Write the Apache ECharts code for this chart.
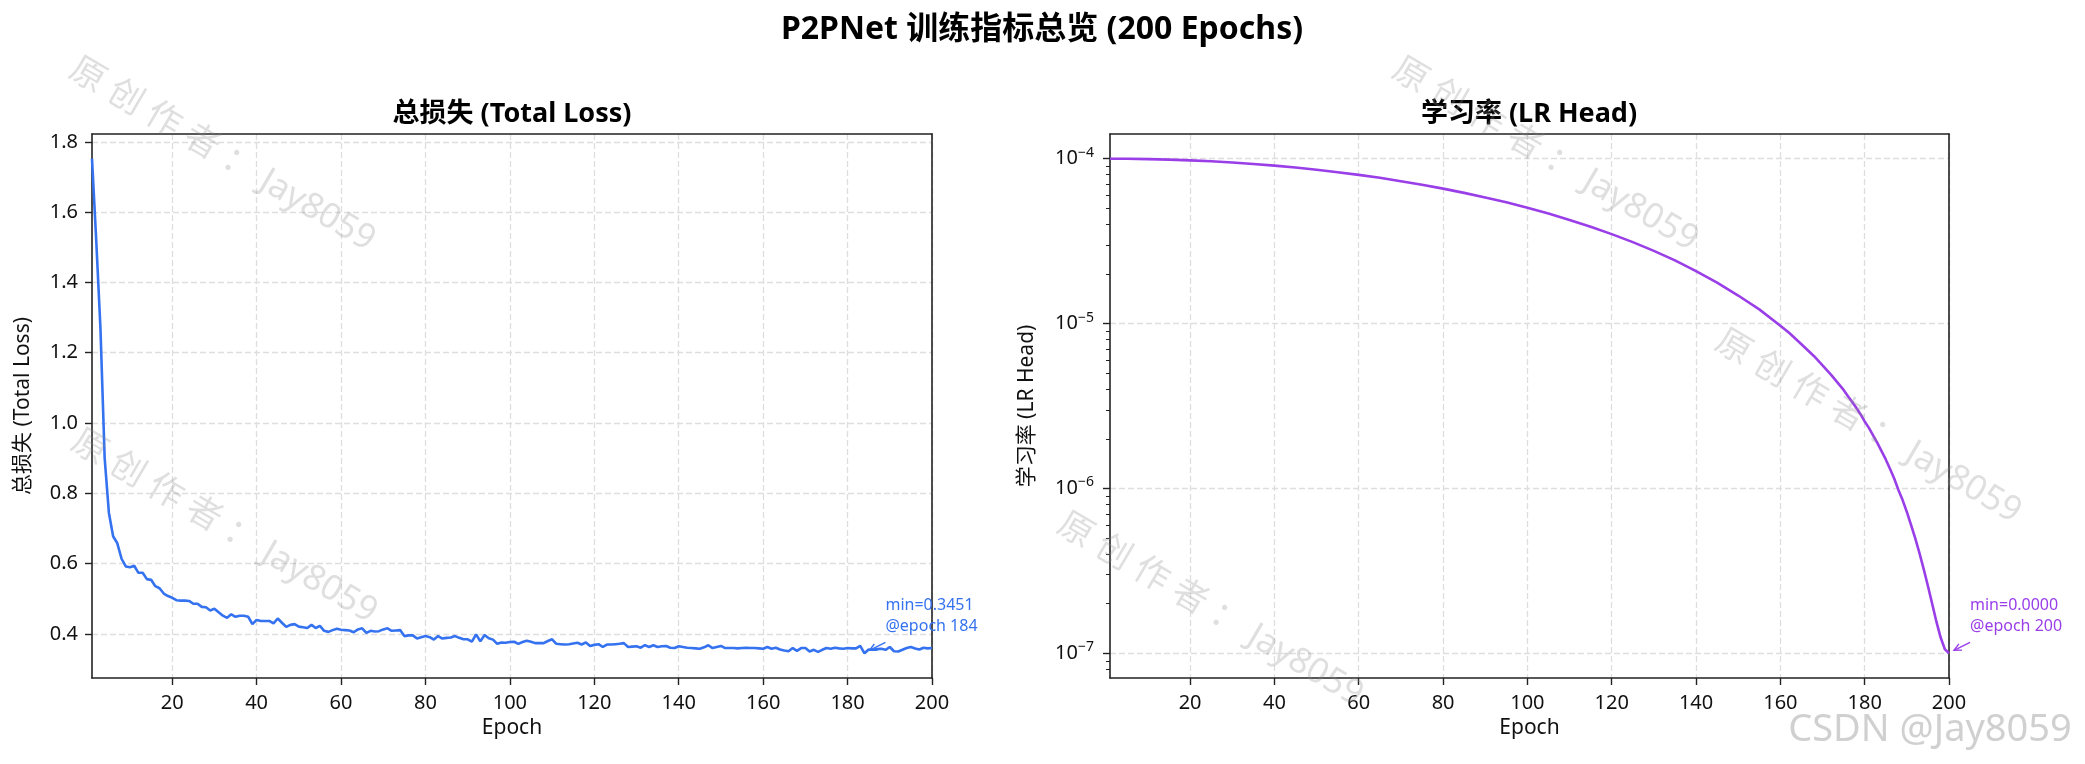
<!DOCTYPE html>
<html>
<head>
<meta charset="utf-8">
<title>P2PNet 训练指标总览</title>
<script src="https://cdn.jsdelivr.net/npm/echarts@6/dist/echarts.min.js"></script>
<style>
  html, body { margin: 0; padding: 0; background: #fff; }
  #main { width: 2085px; height: 764px; }
</style>
</head>
<body>
<div id="main"></div>
<script>
// ---- data ----
const lossValues = [
  1.752, 1.52, 1.27, 0.90, 0.745, 0.678, 0.658, 0.614, 0.592, 0.590,
  0.594, 0.574, 0.574, 0.556, 0.554, 0.536, 0.530, 0.515, 0.508, 0.503,
  0.496, 0.495, 0.495, 0.494, 0.486, 0.486, 0.477, 0.476, 0.467, 0.472,
  0.462, 0.452, 0.446, 0.456, 0.449, 0.452, 0.452, 0.449, 0.428, 0.440,
  0.437, 0.437, 0.437, 0.430, 0.444, 0.432, 0.420, 0.426, 0.428, 0.421,
  0.419, 0.417, 0.426, 0.417, 0.423, 0.409, 0.406, 0.411, 0.415, 0.412,
  0.411, 0.410, 0.405, 0.413, 0.416, 0.403, 0.409, 0.407, 0.408, 0.413,
  0.416, 0.409, 0.410, 0.411, 0.394, 0.396, 0.396, 0.387, 0.391, 0.394,
  0.391, 0.384, 0.394, 0.387, 0.389, 0.390, 0.394, 0.389, 0.385, 0.385,
  0.378, 0.399, 0.379, 0.397, 0.388, 0.384, 0.372, 0.376, 0.375, 0.377,
  0.378, 0.372, 0.377, 0.381, 0.378, 0.374, 0.374, 0.374, 0.380, 0.385,
  0.372, 0.371, 0.370, 0.371, 0.373, 0.375, 0.370, 0.376, 0.366, 0.369,
  0.371, 0.363, 0.370, 0.370, 0.371, 0.372, 0.374, 0.363, 0.364, 0.365,
  0.361, 0.368, 0.363, 0.368, 0.363, 0.365, 0.366, 0.361, 0.360, 0.365,
  0.363, 0.361, 0.360, 0.359, 0.358, 0.362, 0.368, 0.360, 0.363, 0.366,
  0.360, 0.360, 0.360, 0.359, 0.360, 0.361, 0.360, 0.360, 0.359, 0.358,
  0.363, 0.358, 0.361, 0.356, 0.353, 0.351, 0.360, 0.352, 0.360, 0.360,
  0.350, 0.355, 0.349, 0.355, 0.360, 0.358, 0.361, 0.359, 0.358, 0.360,
  0.359, 0.359, 0.366, 0.3451, 0.356, 0.355, 0.357, 0.358, 0.355, 0.363,
  0.351, 0.350, 0.355, 0.360, 0.363, 0.359, 0.356, 0.361, 0.359, 0.360
];
const lossEpochs = lossValues.map((v, i) => i + 1);

const lrEpochs = [1, 5, 10, 15, 20, 25, 30, 35, 40, 45, 50, 55, 60, 65, 70, 75, 80, 85, 90, 95,
  100, 105, 110, 115, 120, 125, 130, 135, 140, 145, 150, 155, 160, 162, 165, 168, 170, 172,
  175, 176, 177, 178, 179, 180, 181, 182, 183, 184, 185, 186, 187, 188, 189, 190,
  191, 192, 193, 194, 195, 196, 197, 198, 199, 200];
const lrValues = [1.0e-4, 9.99e-5, 9.95e-5, 9.88e-5, 9.78e-5, 9.65e-5, 9.49e-5, 9.30e-5, 9.08e-5,
  8.84e-5, 8.58e-5, 8.29e-5, 7.98e-5, 7.66e-5, 7.31e-5, 6.96e-5, 6.59e-5, 6.21e-5, 5.82e-5,
  5.44e-5, 5.04e-5, 4.65e-5, 4.25e-5, 3.87e-5, 3.49e-5, 3.12e-5, 2.76e-5, 2.42e-5, 2.08e-5,
  1.77e-5, 1.48e-5, 1.22e-5, 9.7e-6, 8.82e-6, 7.5e-6, 6.34e-6, 5.58e-6, 4.90e-6,
  3.96e-6, 3.64e-6, 3.36e-6, 3.09e-6, 2.82e-6, 2.55e-6, 2.33e-6, 2.10e-6, 1.89e-6, 1.685e-6,
  1.50e-6, 1.315e-6, 1.15e-6, 9.8e-7, 8.5e-7, 7.2e-7,
  6.0e-7, 4.98e-7, 4.05e-7, 3.24e-7, 2.56e-7, 2.0e-7, 1.56e-7, 1.25e-7, 1.06e-7, 1.0e-7];

const epochTicks = [20, 40, 60, 80, 100, 120, 140, 160, 180, 200];
const lossTicks = [0.4, 0.6, 0.8, 1.0, 1.2, 1.4, 1.6, 1.8];
const lrTicks = [1e-7, 1e-6, 1e-5, 1e-4];
const lrMinorTicks = [8e-8, 9e-8,
  2e-7, 3e-7, 4e-7, 5e-7, 6e-7, 7e-7, 8e-7, 9e-7,
  2e-6, 3e-6, 4e-6, 5e-6, 6e-6, 7e-6, 8e-6, 9e-6,
  2e-5, 3e-5, 4e-5, 5e-5, 6e-5, 7e-5, 8e-5, 9e-5];

const LOSS_COLOR = '#3572f0';
const LR_COLOR = '#9a3ee8';
const FONT = '"Noto Sans", "Noto Sans CJK SC", sans-serif';

const gridLine = { show: true, lineStyle: { color: '#dedede', width: 1.3, type: [6, 3] } };
const axisLine = { show: true, lineStyle: { color: '#222', width: 1.6 } };
const tickStyle = { show: true, inside: false, length: 7, lineStyle: { color: '#222', width: 1.4 } };
const labelStyle = { color: '#111', fontSize: 20, fontFamily: FONT };
const nameStyle = { color: '#111', fontSize: 21, fontFamily: FONT };

function xAxisFor(gridIndex) {
  return {
    type: 'value', gridIndex: gridIndex, min: 1, max: 200, position: 'bottom',
    name: 'Epoch', nameLocation: 'middle', nameGap: 40, nameTextStyle: nameStyle,
    axisLine: axisLine,
    axisTick: Object.assign({ customValues: epochTicks }, tickStyle),
    axisLabel: Object.assign({ customValues: epochTicks, margin: 15 }, labelStyle),
    splitLine: gridLine
  };
}

// bare axes used only as the top / right frame lines, drawn above the grid lines
function spineX(gridIndex) {
  return { type: 'value', gridIndex: gridIndex, min: 1, max: 200, position: 'top', z: 4,
    axisLine: axisLine, axisTick: { show: false }, axisLabel: { show: false }, splitLine: { show: false } };
}
function spineY(gridIndex, type, min, max) {
  return { type: type, gridIndex: gridIndex, min: min, max: max, position: 'right', z: 4,
    axisLine: axisLine, axisTick: { show: false }, axisLabel: { show: false }, splitLine: { show: false } };
}

const dom = document.getElementById('main');
const myChart = echarts.init(dom, null, { renderer: 'canvas' });

const option = {
  backgroundColor: '#fff',
  animation: false,
  grid: [
    { left: 92, top: 134, width: 840, height: 544 },
    { left: 1110, top: 134, width: 839, height: 544 }
  ],
  xAxis: [xAxisFor(0), xAxisFor(1), spineX(0), spineX(1)],
  yAxis: [
    {
      type: 'value', gridIndex: 0, min: 0.2748, max: 1.8222, position: 'left',
      name: '总损失 (Total Loss)', nameLocation: 'middle', nameGap: 58, nameTextStyle: nameStyle,
      axisLine: axisLine,
      axisTick: Object.assign({ customValues: lossTicks }, tickStyle),
      axisLabel: Object.assign({ customValues: lossTicks, margin: 14,
        formatter: v => v.toFixed(1) }, labelStyle),
      splitLine: gridLine
    },
    {
      type: 'log', logBase: 10, gridIndex: 1, min: 7.08e-8, max: 1.413e-4, position: 'left',
      name: '学习率 (LR Head)', nameLocation: 'middle', nameGap: 72, nameTextStyle: nameStyle,
      axisLine: axisLine,
      axisTick: Object.assign({ customValues: lrTicks }, tickStyle),
      axisLabel: {
        customValues: lrTicks, margin: 16,
        formatter: v => '{b|10}{s|−' + Math.round(-Math.log10(v)) + '}',
        rich: {
          b: { color: '#111', fontSize: 20, fontFamily: FONT, lineHeight: 26 },
          s: { color: '#111', fontSize: 14, fontFamily: FONT, verticalAlign: 'top', lineHeight: 26 }
        }
      },
      splitLine: gridLine
    },
    {
      // minor ticks of the log axis
      type: 'log', logBase: 10, gridIndex: 1, min: 7.08e-8, max: 1.413e-4, position: 'left',
      axisLine: { show: false },
      axisTick: { show: true, customValues: lrMinorTicks, length: 4, lineStyle: { color: '#222', width: 1 } },
      axisLabel: { show: false },
      splitLine: { show: false }
    },
    spineY(0, 'value', 0.2748, 1.8222),
    spineY(1, 'log', 7.08e-8, 1.413e-4)
  ],
  series: [
    {
      type: 'line', xAxisIndex: 0, yAxisIndex: 0,
      data: lossEpochs.map((e, i) => [e, lossValues[i]]),
      showSymbol: false, symbol: 'none',
      lineStyle: { color: LOSS_COLOR, width: 2.6 }, z: 5
    },
    {
      type: 'line', xAxisIndex: 1, yAxisIndex: 1,
      data: lrEpochs.map((e, i) => [e, lrValues[i]]),
      showSymbol: false, symbol: 'none',
      lineStyle: { color: LR_COLOR, width: 2.6 }, z: 5
    }
  ]
};

myChart.setOption(option);

// ---- titles, annotations and watermarks ----
function annotation(seriesIdx, epochsArr, valuesArr, color) {
  let k = 0;
  valuesArr.forEach((v, i) => { if (v < valuesArr[k]) k = i; });
  const p = myChart.convertToPixel({ seriesIndex: seriesIdx }, [epochsArr[k], valuesArr[k]]);
  const tail = [p[0] + 21, p[1] - 11];
  const head = [p[0] + 5, p[1] - 3];
  const ang = Math.atan2(tail[1] - head[1], tail[0] - head[0]);
  const a1 = ang + 0.45, a2 = ang - 0.45, L = 8;
  return [
    {
      type: 'text', z: 20,
      style: {
        x: p[0] + 21, y: p[1] - 16, align: 'left', verticalAlign: 'bottom',
        text: 'min=' + valuesArr[k].toFixed(4) + '\n@epoch ' + epochsArr[k],
        fill: color, font: '16px ' + FONT, lineHeight: 21
      }
    },
    {
      type: 'polyline', z: 20,
      shape: { points: [tail, head] },
      style: { stroke: color, lineWidth: 1.4, fill: null }
    },
    {
      type: 'polyline', z: 20,
      shape: { points: [
        [head[0] + L * Math.cos(a1), head[1] + L * Math.sin(a1)], head,
        [head[0] + L * Math.cos(a2), head[1] + L * Math.sin(a2)]
      ] },
      style: { stroke: color, lineWidth: 1.4, fill: null }
    }
  ];
}

function titleText(x, y, text, size) {
  return {
    type: 'text', z: 20,
    style: { x: x, y: y, text: text, align: 'center', verticalAlign: 'middle',
      fill: '#000', font: 'bold ' + size + 'px ' + FONT }
  };
}

const marks = [
  [222, 155], [224, 527], [1545, 155], [1868, 427], [1210, 610]
];
const watermarks = marks.map(c => ({
  type: 'text', z: 30, x: c[0], y: c[1], rotation: -0.53,
  style: { x: 0, y: 0, text: '原 创 作 者 ： Jay8059', align: 'center', verticalAlign: 'middle',
    fill: 'rgba(140,140,140,0.28)', font: '35px ' + FONT }
}));

const graphics = [
  titleText(1042, 30, 'P2PNet 训练指标总览 (200 Epochs)', 32),
  titleText(512, 114, '总损失 (Total Loss)', 27),
  titleText(1529, 114, '学习率 (LR Head)', 27)
]
  .concat(annotation(0, lossEpochs, lossValues, LOSS_COLOR))
  .concat(annotation(1, lrEpochs, lrValues, LR_COLOR))
  .concat(watermarks)
  .concat([{
    type: 'text', z: 30,
    style: { x: 1930, y: 730, text: 'CSDN @Jay8059', align: 'center', verticalAlign: 'middle',
      fill: 'rgba(205,205,205,0.95)', font: '38px ' + FONT,
      shadowColor: 'rgba(0,0,0,0.25)', shadowBlur: 2, shadowOffsetX: 1, shadowOffsetY: 1 }
  }]);

myChart.setOption({ graphic: graphics });

window.addEventListener('resize', myChart.resize);
</script>
</body>
</html>
